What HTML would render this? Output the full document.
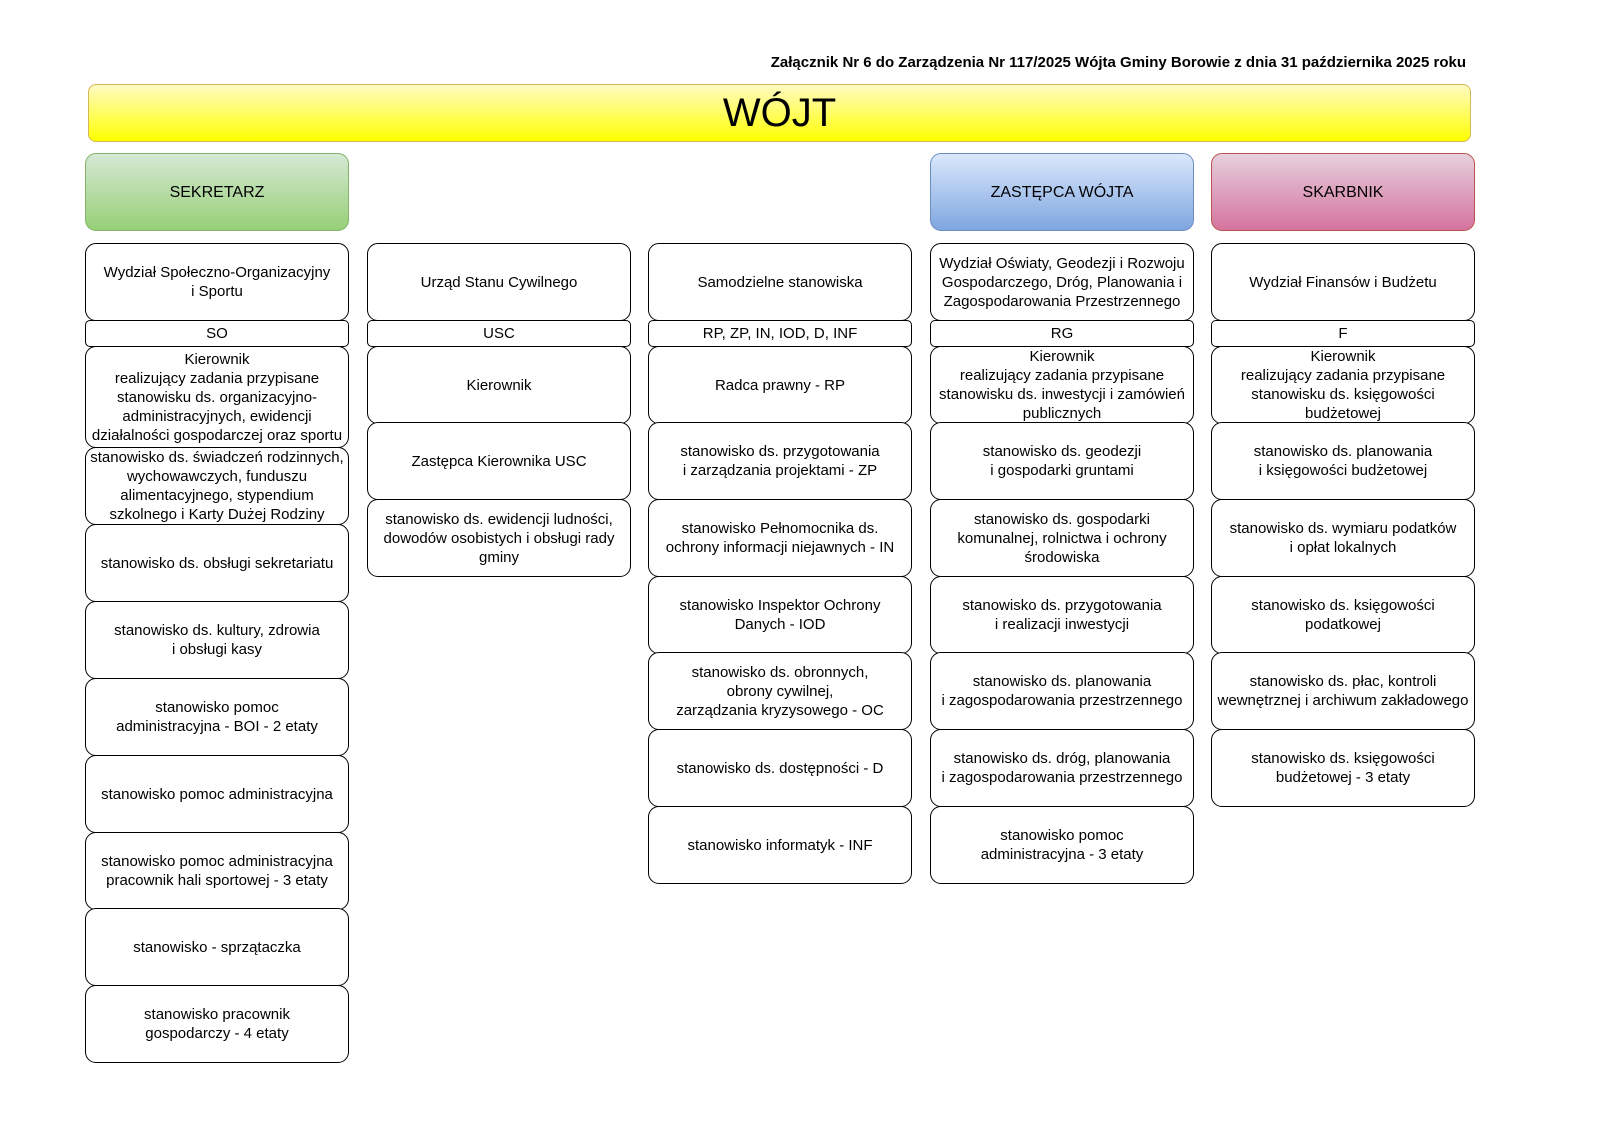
<!DOCTYPE html>
<html><head><meta charset="utf-8"><style>
body{margin:0;width:1600px;height:1131px;background:#fff;position:relative;font-family:"Liberation Sans",Arial,sans-serif;overflow:hidden}
.b{position:absolute;box-sizing:border-box;border:1.3px solid #000;border-radius:11px;background:#fff;display:flex;align-items:center;justify-content:center;text-align:center;font-size:15px;line-height:19px;color:#000;width:264px}
.c{border-radius:5px;height:27px}
.h{height:78px;top:153px;font-size:16px}
</style></head><body>
<div style="position:absolute;left:0;width:1466px;top:54px;text-align:right;font-weight:bold;font-size:15px">Załącznik Nr 6 do Zarządzenia Nr 117/2025 Wójta Gminy Borowie z dnia 31 października 2025 roku</div>
<div class="b" style="left:88px;top:84px;width:1383px;height:58px;border-color:#d6b656;border-width:1px;border-radius:8px;background:linear-gradient(#fffbc2,#ffff00);font-size:40px">WÓJT</div>

<div class="b h" style="left:85px;background:linear-gradient(#d5e8d4,#97d077);border-color:#82b366">SEKRETARZ</div>
<div class="b h" style="left:930px;background:linear-gradient(#dae8fc,#7ea6e0);border-color:#6c8ebf">ZASTĘPCA WÓJTA</div>
<div class="b h" style="left:1211px;background:linear-gradient(#e6d0de,#d5739d);border-color:#b85450">SKARBNIK</div>

<!-- col1 -->
<div class="b" style="left:85px;top:243px;height:78px">Wydział Społeczno-Organizacyjny<br>i Sportu</div>
<div class="b c" style="left:85px;top:320px">SO</div>
<div class="b" style="left:85px;top:346px;height:102px">Kierownik<br>realizujący zadania przypisane<br>stanowisku ds. organizacyjno-<br>administracyjnych, ewidencji<br>działalności gospodarczej oraz sportu</div>
<div class="b" style="left:85px;top:447px;height:78px">stanowisko ds. świadczeń rodzinnych, wychowawczych, funduszu alimentacyjnego, stypendium szkolnego i Karty Dużej Rodziny</div>
<div class="b" style="left:85px;top:524px;height:78px">stanowisko ds. obsługi sekretariatu</div>
<div class="b" style="left:85px;top:601px;height:78px">stanowisko ds. kultury, zdrowia<br>i obsługi kasy</div>
<div class="b" style="left:85px;top:678px;height:78px">stanowisko pomoc<br>administracyjna - BOI - 2 etaty</div>
<div class="b" style="left:85px;top:755px;height:78px">stanowisko pomoc administracyjna</div>
<div class="b" style="left:85px;top:832px;height:78px">stanowisko pomoc administracyjna<br>pracownik hali sportowej - 3 etaty</div>
<div class="b" style="left:85px;top:908px;height:78px">stanowisko - sprzątaczka</div>
<div class="b" style="left:85px;top:985px;height:78px">stanowisko pracownik<br>gospodarczy - 4 etaty</div>

<!-- col2 -->
<div class="b" style="left:367px;top:243px;height:78px">Urząd Stanu Cywilnego</div>
<div class="b c" style="left:367px;top:320px">USC</div>
<div class="b" style="left:367px;top:346px;height:78px">Kierownik</div>
<div class="b" style="left:367px;top:422px;height:78px">Zastępca Kierownika USC</div>
<div class="b" style="left:367px;top:499px;height:78px">stanowisko ds. ewidencji ludności, dowodów osobistych i obsługi rady gminy</div>

<!-- col3 -->
<div class="b" style="left:648px;top:243px;height:78px">Samodzielne stanowiska</div>
<div class="b c" style="left:648px;top:320px">RP, ZP, IN, IOD, D, INF</div>
<div class="b" style="left:648px;top:346px;height:78px">Radca prawny - RP</div>
<div class="b" style="left:648px;top:422px;height:78px">stanowisko ds. przygotowania<br>i zarządzania projektami - ZP</div>
<div class="b" style="left:648px;top:499px;height:78px">stanowisko Pełnomocnika ds.<br>ochrony informacji niejawnych - IN</div>
<div class="b" style="left:648px;top:576px;height:78px">stanowisko Inspektor Ochrony<br>Danych - IOD</div>
<div class="b" style="left:648px;top:652px;height:78px">stanowisko ds. obronnych,<br>obrony cywilnej,<br>zarządzania kryzysowego - OC</div>
<div class="b" style="left:648px;top:729px;height:78px">stanowisko ds. dostępności - D</div>
<div class="b" style="left:648px;top:806px;height:78px">stanowisko informatyk - INF</div>

<!-- col4 -->
<div class="b" style="left:930px;top:243px;height:78px">Wydział Oświaty, Geodezji i Rozwoju Gospodarczego, Dróg, Planowania i Zagospodarowania Przestrzennego</div>
<div class="b c" style="left:930px;top:320px">RG</div>
<div class="b" style="left:930px;top:346px;height:78px">Kierownik<br>realizujący zadania przypisane stanowisku ds. inwestycji i zamówień publicznych</div>
<div class="b" style="left:930px;top:422px;height:78px">stanowisko ds. geodezji<br>i gospodarki gruntami</div>
<div class="b" style="left:930px;top:499px;height:78px">stanowisko ds. gospodarki<br>komunalnej, rolnictwa i ochrony<br>środowiska</div>
<div class="b" style="left:930px;top:576px;height:78px">stanowisko ds. przygotowania<br>i realizacji inwestycji</div>
<div class="b" style="left:930px;top:652px;height:78px">stanowisko ds. planowania<br>i zagospodarowania przestrzennego</div>
<div class="b" style="left:930px;top:729px;height:78px">stanowisko ds. dróg, planowania<br>i zagospodarowania przestrzennego</div>
<div class="b" style="left:930px;top:806px;height:78px">stanowisko pomoc<br>administracyjna - 3 etaty</div>

<!-- col5 -->
<div class="b" style="left:1211px;top:243px;height:78px">Wydział Finansów i Budżetu</div>
<div class="b c" style="left:1211px;top:320px">F</div>
<div class="b" style="left:1211px;top:346px;height:78px">Kierownik<br>realizujący zadania przypisane<br>stanowisku ds. księgowości<br>budżetowej</div>
<div class="b" style="left:1211px;top:422px;height:78px">stanowisko ds. planowania<br>i księgowości budżetowej</div>
<div class="b" style="left:1211px;top:499px;height:78px">stanowisko ds. wymiaru podatków<br>i opłat lokalnych</div>
<div class="b" style="left:1211px;top:576px;height:78px">stanowisko ds. księgowości<br>podatkowej</div>
<div class="b" style="left:1211px;top:652px;height:78px">stanowisko ds. płac, kontroli wewnętrznej i archiwum zakładowego</div>
<div class="b" style="left:1211px;top:729px;height:78px">stanowisko ds. księgowości<br>budżetowej - 3 etaty</div>
</body></html>
